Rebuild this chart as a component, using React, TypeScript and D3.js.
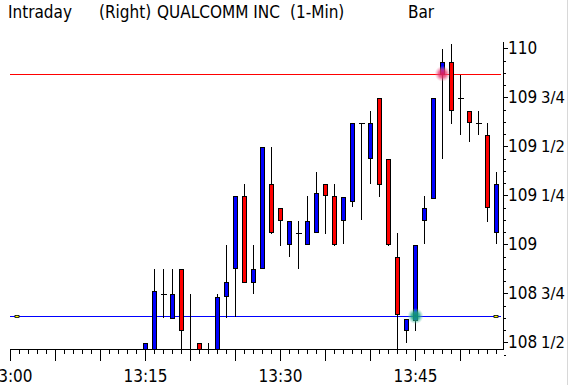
import React from "react";
import * as d3 from "d3";

const titleParts = [
  { text: "Intraday", x: 8 },
  { text: "(Right)", x: 99 },
  { text: "QUALCOMM INC", x: 157 },
  { text: "(1-Min)", x: 290 },
  { text: "Bar", x: 408 },
];

const minutes = [15,16,17,18,19,20,21,22,23,24,25,26,27,28,29,30,31,32,33,34,35,36,37,38,39,40,41,42,43,44,45,46,47,48,49,50,51,52,53,54];
const opens = [108.42,108.43,108.745,108.625,108.872,108.44,108.495,108.43,108.43,108.735,108.877,109.245,108.809,108.877,109.306,109.184,109.0,109.056,109.0,109.061,109.306,109.245,109.122,109.219,109.617,109.439,109.745,109.434,108.934,108.561,108.614,109.122,109.235,109.87,109.929,109.745,109.679,109.617,109.556,109.061];
const highs = [108.495,108.874,108.874,108.874,108.872,108.745,108.495,108.495,108.745,108.996,109.245,109.308,108.996,109.495,109.495,109.184,109.117,109.119,109.246,109.369,109.306,109.306,109.243,109.617,109.617,109.679,109.745,109.434,109.056,108.62,108.995,109.246,109.745,109.995,110.02,109.865,109.679,109.68,109.617,109.367];
const lows = [108.4,108.4,108.625,108.625,108.4,108.4,108.42,108.42,108.42,108.625,108.629,108.804,108.748,108.877,109.054,108.993,108.937,108.876,109.0,109.061,109.054,108.993,109.0,109.189,109.122,109.309,109.243,108.993,108.44,108.498,108.56,109.0,109.235,109.437,109.615,109.559,109.523,109.559,109.115,109.0];
const closes = [108.495,108.76,108.745,108.745,108.561,108.42,108.43,108.44,108.73,108.806,109.245,108.809,108.872,109.495,109.061,109.122,109.117,109.056,109.117,109.26,109.25,109.0,109.243,109.617,109.617,109.617,109.309,109.0,108.643,108.62,108.995,109.184,109.745,109.929,109.684,109.745,109.622,109.617,109.189,109.306];

const xTickMinutes = d3.range(0, 55);
const xLabelMinutes = [0, 15, 30, 45];
const xLabels = ["13:00", "13:15", "13:30", "13:45"];
const yLabelValues = [108.5, 108.75, 109, 109.25, 109.5, 109.75, 110];
const yLabelInts = ["108", "108", "109", "109", "109", "109", "110"];
const yLabelFracs = ["1/2", "3/4", "", "1/4", "1/2", "3/4", ""];
const resistance = 109.87;
const support = 108.634;
const greenDot = { m: 45, v: 108.634 };
const pinkDot = { m: 48, v: 109.87 };

const W = 572;
const H = 385;
const FONT = "'Liberation Sans Narrow', 'DejaVu Sans Condensed', sans-serif";

export default function App() {
  const x = d3.scaleLinear().domain([0, 54]).range([10, 496]);
  const y = d3.scaleLinear().domain([109, 110]).range([244.3, 48.3]);
  const axisY = 349.5;
  const axisX = 503.5;
  const plotTop = 36;

  const candles = minutes.map((m, i) => ({ m, o: opens[i], h: highs[i], l: lows[i], c: closes[i] }));
  const minorY = d3.range(108.4375, 110.001, 0.0625);

  return (
    <svg width={W} height={H} style={{ position: "fixed", left: 0, top: 0, background: "#fff" }} fontFamily={FONT}>
      <defs>
        <clipPath id="plot">
          <rect x={0} y={plotTop} width={axisX} height={axisY - plotTop} />
        </clipPath>
        <radialGradient id="gGreen">
          <stop offset="0%" stopColor="#0a9070" stopOpacity={1} />
          <stop offset="50%" stopColor="#20a888" stopOpacity={0.8} />
          <stop offset="100%" stopColor="#70d0b8" stopOpacity={0} />
        </radialGradient>
        <radialGradient id="gPink">
          <stop offset="0%" stopColor="#e01858" stopOpacity={1} />
          <stop offset="50%" stopColor="#e84078" stopOpacity={0.75} />
          <stop offset="100%" stopColor="#f090b0" stopOpacity={0} />
        </radialGradient>
      </defs>
      <rect x={0} y={0} width={W} height={H} fill="#fff" />
      <line x1={567.5} x2={567.5} y1={0} y2={H} stroke="#d8d8d8" />

      {titleParts.map((t) => (
        <text key={t.text} x={t.x} y={18} fontSize={17} fill="#000">{t.text}</text>
      ))}

      {/* horizontal lines */}
      <line x1={10} x2={501} y1={Math.round(y(resistance)) + 0.5} y2={Math.round(y(resistance)) + 0.5} stroke="#ff0000" />
      <line x1={10} x2={501} y1={Math.round(y(support)) + 0.5} y2={Math.round(y(support)) + 0.5} stroke="#0000ff" />
      {[x(0) + 7, x(54)].map((mx, i) => (
        <rect key={i} x={mx - 2} y={Math.round(y(support)) - 0.5} width={4} height={2} fill="#ffff00" stroke="#000" strokeWidth={0.8} />
      ))}

      <g clipPath="url(#plot)" shapeRendering="crispEdges">
        {candles.map((d) => {
          const cx = x(d.m) + 0.5;
          const up = d.c > d.o;
          const doji = d.c === d.o;
          const top = y(Math.max(d.o, d.c));
          const bot = y(Math.min(d.o, d.c));
          return (
            <g key={d.m}>
              <line x1={cx} x2={cx} y1={y(d.h)} y2={y(d.l)} stroke="#000" strokeWidth={1} />
              {doji ? (
                <line x1={cx - 3} x2={cx + 3} y1={Math.round(top) + 0.5} y2={Math.round(top) + 0.5} stroke="#000" />
              ) : (
                <rect x={cx - 2} y={Math.round(top) + 0.5} width={4} height={Math.max(1, Math.round(bot) - Math.round(top))} fill={up ? "#0000ff" : "#ff0000"} stroke="#000" strokeWidth={1} />
              )}
            </g>
          );
        })}
      </g>

      <circle cx={x(greenDot.m) + 0.5} cy={y(greenDot.v)} r={8} fill="url(#gGreen)" />
      <circle cx={x(pinkDot.m) + 0.5} cy={y(pinkDot.v)} r={8} fill="url(#gPink)" />

      {/* x axis */}
      <g shapeRendering="crispEdges">
        <line x1={x(0)} x2={axisX} y1={axisY} y2={axisY} stroke="#000" />
        {xTickMinutes.map((m) => (
          <line key={m} x1={x(m) + 0.5} x2={x(m) + 0.5} y1={axisY} y2={m % 5 === 0 ? 361 : 354} stroke="#000" />
        ))}
        {/* y axis */}
        <line x1={axisX} x2={axisX} y1={42} y2={axisY} stroke="#000" />
        {minorY.map((v, i) => {
          const major = Math.abs(v * 4 - Math.round(v * 4)) < 1e-6;
          return (
            <line key={i} x1={axisX} x2={axisX + (major ? 4 : 2.5)} y1={Math.round(y(v)) + 0.5} y2={Math.round(y(v)) + 0.5} stroke="#000" />
          );
        })}
      </g>
      {xLabelMinutes.map((m, i) => (
        <text key={m} x={x(m) + 0.5} y={382} fontSize={17} textAnchor="middle" fill="#000">{xLabels[i]}</text>
      ))}
      {yLabelValues.map((v, i) => (
        <g key={v}>
          <text x={508} y={y(v) + 6} fontSize={17} fill="#000">{yLabelInts[i]}</text>
          {yLabelFracs[i] && (
            <text x={541} y={y(v) + 6} fontSize={16.5} fill="#000">{yLabelFracs[i]}</text>
          )}
        </g>
      ))}
    </svg>
  );
}
